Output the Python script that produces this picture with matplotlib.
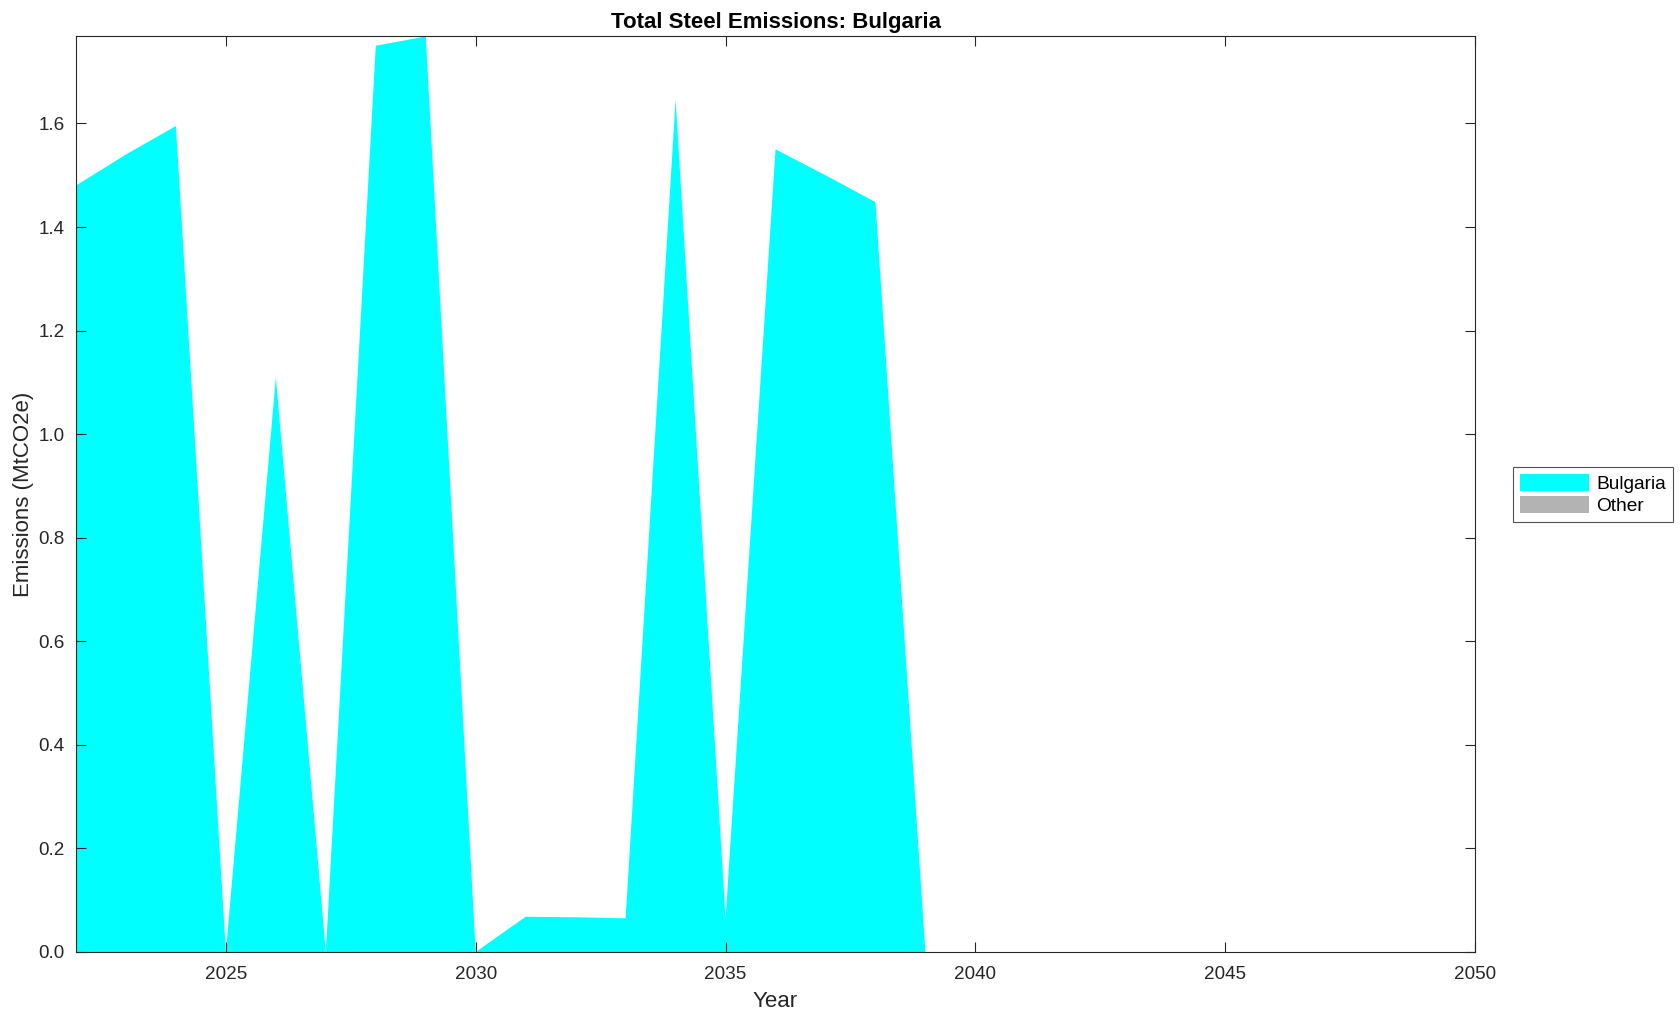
import numpy as np
import matplotlib
matplotlib.use("Agg")
import matplotlib.pyplot as plt

plt.rcParams['font.family'] = ['Liberation Sans', 'DejaVu Sans']

years = np.arange(2022, 2051)
bulgaria = [1.48, 1.54, 1.595, 0.0, 1.11, 0.0, 1.75, 1.768, 0.0, 0.068,
            0.067, 0.065, 1.646, 0.065, 1.55, 1.50, 1.448, 0.0, 0.0, 0.0,
            0.0, 0.0, 0.0, 0.0, 0.0, 0.0, 0.0, 0.0, 0.0]
other = [0.0] * len(years)
labels = ['Bulgaria', 'Other']
colors = ['#00ffff', '#b3b3b3']

fig = plt.figure(figsize=(16.81, 10.21), dpi=100)
ax = fig.add_axes([0.0452, 0.0676, 0.8323, 0.8967])

ax.stackplot(years, bulgaria, other, labels=labels, colors=colors, linewidth=0)

ax.set_xlim(2022, 2050)
ax.set_ylim(0, max(bulgaria))
ax.set_xticks(np.arange(2025, 2051, 5))
ax.set_yticks(np.arange(0, 1.61, 0.2))
ax.yaxis.set_major_formatter(matplotlib.ticker.FormatStrFormatter('%.1f'))
ax.tick_params(direction='in', top=True, right=True, length=7, width=0.8,
               labelsize=13.6, colors='#262626', pad=8)
ax.tick_params(axis='x', pad=10)
for s in ax.spines.values():
    s.set_linewidth(0.8)
    s.set_color('#262626')

ax.set_xlabel('Year', fontsize=16, color='#262626', labelpad=6)
ax.set_ylabel('Emissions (MtCO2e)', fontsize=16, color='#262626', labelpad=3)
ax.set_title('Total Steel Emissions: Bulgaria', fontsize=16, fontweight='bold', pad=6)

leg = ax.legend(loc='center left', bbox_to_anchor=(1.027, 0.5), fontsize=13.8,
                frameon=True, fancybox=False, edgecolor='#262626',
                handlelength=3.6, handleheight=1.0, handletextpad=0.4,
                labelspacing=0.15, borderpad=0.35, borderaxespad=0)
leg.get_frame().set_linewidth(0.8)

fig.savefig('out.png', dpi=100)
